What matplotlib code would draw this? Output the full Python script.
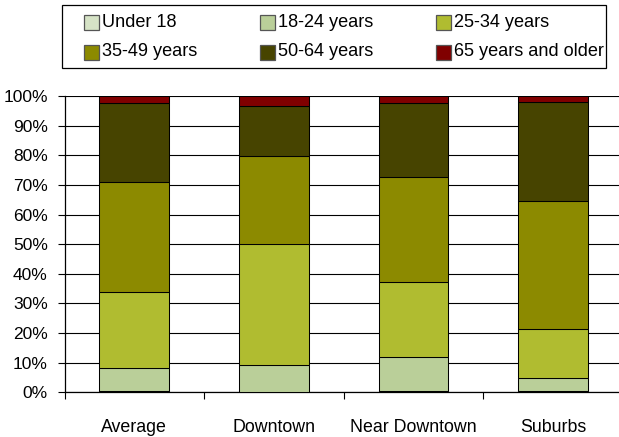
import matplotlib
matplotlib.use("Agg")
import matplotlib.pyplot as plt
from matplotlib.patches import Rectangle
import numpy as np

plt.rcParams['font.family'] = ['Liberation Sans', 'DejaVu Sans']

categories = ["Average", "Downtown", "Near Downtown", "Suburbs"]
age_groups = ["Under 18", "18-24 years", "25-34 years",
              "35-49 years", "50-64 years", "65 years and older"]
under_18 = [0.3, 0.1, 0.6, 0.3]
age_18_24 = [7.8, 9.1, 11.2, 4.5]
age_25_34 = [25.6, 41.0, 25.3, 16.7]
age_35_49 = [37.3, 29.5, 35.6, 43.1]
age_50_64 = [26.5, 17.0, 24.8, 33.3]
age_65_plus = [2.5, 3.3, 2.5, 2.1]
y_ticks = [0, 10, 20, 30, 40, 50, 60, 70, 80, 90, 100]

series = [under_18, age_18_24, age_25_34, age_35_49, age_50_64, age_65_plus]
colors = ["#d6e3c6", "#bacf99", "#b0bc30", "#8c8a00", "#474400", "#800000"]

W, H = 619, 437
fig = plt.figure(figsize=(W / 100, H / 100), dpi=100)

left, right, bottom, top = 64.5, 623.0, 392.3, 96.0
ax = fig.add_axes([left / W, (H - bottom) / H, (right - left) / W, (bottom - top) / H])

x = np.arange(len(categories))
base = np.zeros(len(categories))
for vals, col in zip(series, colors):
    ax.bar(x, vals, width=0.5, bottom=base, color=col, edgecolor="black",
           linewidth=0.75, zorder=3)
    base += np.array(vals)

ax.set_xlim(-0.5, 3.5)
ax.set_ylim(0, 100)
ax.set_yticks(y_ticks)
ax.set_yticklabels([f"{v}%" for v in y_ticks])
ax.yaxis.grid(True, color="black", linewidth=0.8, zorder=0)
ax.set_axisbelow(True)

ax.set_xticks(x)
ax.set_xticklabels(categories)
ax.set_xticks([-0.5, 0.5, 1.5, 2.5], minor=True)
ax.tick_params(axis="x", which="major", length=0, pad=19, labelsize=12.8)
ax.tick_params(axis="x", which="minor", length=5, width=0.8, direction="out")
ax.tick_params(axis="y", length=5, width=0.8, pad=7, labelsize=12.5)

for s in ("top", "right"):
    ax.spines[s].set_visible(False)
for s in ("left", "bottom"):
    ax.spines[s].set_color("black")
    ax.spines[s].set_linewidth(0.9)

# legend box drawn in pixel coordinates
def px(xp, yp):
    return xp / W, (H - yp) / H

lx0, ly0, lx1, ly1 = 62, 5, 606, 68
fig.add_artist(Rectangle(px(lx0, ly1), (lx1 - lx0) / W, (ly1 - ly0) / H,
                         transform=fig.transFigure, facecolor="white",
                         edgecolor="black", linewidth=0.9))
col_x = [84, 259.5, 436]
row_y = [22.5, 52]
msize = 15
for i, (label, col) in enumerate(zip(age_groups, colors)):
    r, c = divmod(i, 3)
    mx, my = col_x[c], row_y[r]
    fig.add_artist(Rectangle(px(mx, my + msize / 2), msize / W, msize / H,
                             transform=fig.transFigure, facecolor=col,
                             edgecolor="#555555", linewidth=0.9))
    fx, fy = px(mx + msize + 3, my)
    fig.text(fx, fy, label, ha="left", va="center", fontsize=13.1)

fig.savefig("out.png", dpi=100)
